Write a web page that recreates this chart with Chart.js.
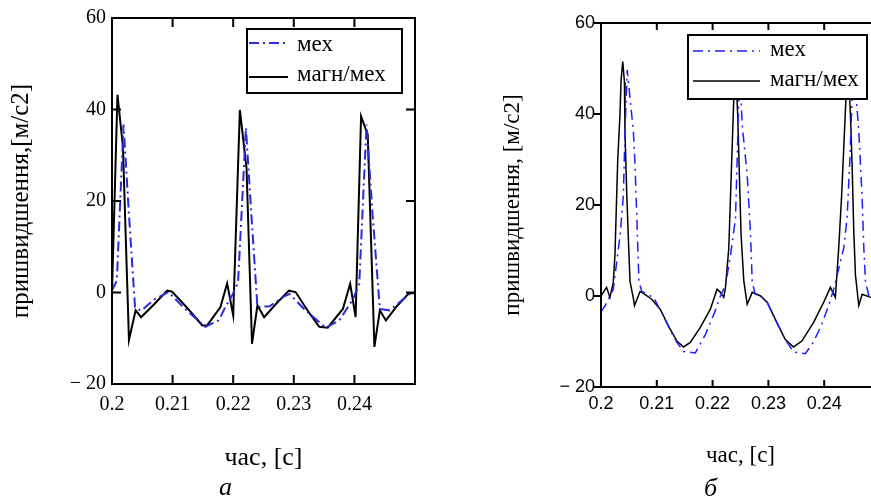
<!DOCTYPE html>
<html><head><meta charset="utf-8">
<script src="https://cdn.jsdelivr.net/npm/chart.js@4.4.1/dist/chart.umd.min.js"></script>
<style>
html,body{margin:0;padding:0;background:#fff;overflow:hidden;width:871px;height:502px;}
#wrapA{position:absolute;left:0;top:0;width:430px;height:502px;}
#wrapB{position:absolute;left:440px;top:0;width:460px;height:502px;}
.cap{position:absolute;font-family:'Liberation Serif',serif;font-style:italic;font-size:26px;line-height:1;color:#000;}
</style></head><body>
<div id="wrapA"><canvas id="chartA" width="430" height="502"></canvas></div>
<div id="wrapB"><canvas id="chartB" width="460" height="502"></canvas></div>
<div class="cap" style="left:219px;top:474px">а</div>
<div class="cap" style="left:704px;top:475px">б</div>
<script>
// ---------- data ----------
const seriesNames = ['мех', 'магн/мех'];
const xTickValues = [0.2, 0.21, 0.22, 0.23, 0.24];
const xTickLabels = ['0.2', '0.21', '0.22', '0.23', '0.24'];
const yTickValues = [-20, 0, 20, 40, 60];
const yTickLabels = ['\u2212 20', '0', '20', '40', '60'];

// chart "а" : мех (blue dash-dot)
const aMechT = [0.2000,0.2008,0.2019,0.2028,0.2038,0.2048,0.2070,0.2093,0.2120,0.2154,0.2176,0.2187,0.2198,0.2208,0.2221,0.2230,0.2240,0.2260,0.2282,0.2293,0.2320,0.2353,0.2375,0.2398,0.2408,0.2420,0.2430,0.2442,0.2458,0.2491,0.2500];
const aMechV = [0.5,2.6,36.7,17,-3.2,-4.0,-1.5,0.1,-3.5,-7.5,-6.1,-3.2,-0.7,2.2,36,17,-3.2,-3.0,-1.0,-0.3,-4,-7.7,-6.1,-1.4,1.9,36.7,17,-3.6,-3.9,-0.4,0];
// chart "а" : магн/мех (black solid)
const aMagT = [0.2000,0.2009,0.2018,0.2028,0.2039,0.2048,0.2070,0.2091,0.2099,0.2125,0.2149,0.2157,0.2179,0.2190,0.2200,0.2211,0.2222,0.2231,0.2240,0.2251,0.2272,0.2292,0.2303,0.2323,0.2342,0.2356,0.2381,0.2393,0.2402,0.2411,0.2422,0.2433,0.2442,0.2452,0.2470,0.2489,0.2502];
const aMagV = [0,43.2,32,-10.4,-3.9,-5.4,-2.5,0.4,0.2,-3.5,-7.2,-7.2,-3.2,2.0,-5.0,39.9,27.2,-11.2,-2.8,-5.4,-2.3,0.4,0.1,-4.0,-7.5,-7.7,-3.6,1.9,-5.4,38.5,34.5,-11.9,-3.9,-6.1,-3.0,-0.3,0];

// chart "б" : мех (blue dash-dot)
const bMechT = [0.2000,0.2008,0.2022,0.2028,0.2034,0.2040,0.2043,0.2047,0.2052,0.2058,0.2061,0.2064,0.2066,0.2068,0.2073,0.2094,0.2106,0.2124,0.2136,0.2148,0.2169,0.2187,0.2202,0.2214,0.2223,0.2232,0.2241,0.2244,0.2247,0.2249,0.2253,0.2262,0.2268,0.2271,0.2276,0.2286,0.2298,0.2315,0.2330,0.2345,0.2366,0.2381,0.2396,0.2408,0.2417,0.2435,0.2441,0.2446,0.2450,0.2454,0.2462,0.2468,0.2471,0.2474,0.2480,0.2500];
const bMechV = [-3.5,-2,1.5,7.3,13.1,21.9,36,49.7,43.5,36.2,28.9,17.9,10.5,3.2,1.0,-0.3,-3.0,-7.5,-10.2,-12.2,-12.5,-8.5,-4.1,0,2.3,8.9,17,30,43.5,49,37.6,26.6,13.5,3.2,0.5,0,-1.4,-5.8,-9.5,-12.3,-12.7,-10.1,-6.1,-2.1,1.5,10.5,17.1,30,43.5,49,36.2,21.5,10.5,3.2,0,-0.5];
// chart "б" : магн/мех (black solid)
const bMagT = [0.2000,0.2010,0.2016,0.2022,0.2025,0.2030,0.2034,0.2036,0.2039,0.2042,0.2043,0.2046,0.2049,0.2052,0.2058,0.2060,0.2070,0.2076,0.2091,0.2106,0.2124,0.2136,0.2148,0.2160,0.2178,0.2196,0.2208,0.2214,0.2220,0.2223,0.2229,0.2232,0.2235,0.2238,0.2241,0.2245,0.2248,0.2251,0.2256,0.2262,0.2271,0.2286,0.2298,0.2315,0.2330,0.2345,0.2360,0.2381,0.2399,0.2411,0.2420,0.2426,0.2431,0.2435,0.2439,0.2443,0.2447,0.2450,0.2453,0.2456,0.2462,0.2468,0.2483,0.2500];
const bMagV = [0,1.9,-0.3,3.0,9,30,39.8,47.5,51.5,47,36,23,12.7,3.2,-0.5,-2.1,1.0,0.6,-0.7,-2.9,-7.3,-9.9,-11.2,-10.2,-6.9,-2.9,1.5,0.8,-0.3,1.8,10.5,21.5,32.5,43.5,51,39.8,26.6,13.5,3.2,-1.8,0.8,0,-1.4,-5.8,-9.5,-11.2,-9.9,-5.8,-1.4,1.9,-0.3,10.5,21.5,32.5,43.5,51,39.8,28.9,14.2,4.6,-2.1,0.4,-0.3,-0.8];

const pts = (t, v) => t.map((x, i) => ({x, y: v[i]}));

// ---------- plugins ----------
const frameTicks = {
  id: 'frameTicks',
  afterDatasetsDraw(chart, args, o) {
    const {ctx, chartArea: {left, right, top, bottom}} = chart;
    const xs = chart.scales.x, ys = chart.scales.y;
    ctx.save();
    ctx.strokeStyle = '#000';
    ctx.lineWidth = o.lineWidth;
    ctx.beginPath();
    xs.ticks.forEach(t => {
      const p = xs.getPixelForValue(t.value);
      ctx.moveTo(p, bottom); ctx.lineTo(p, bottom - o.len);
      ctx.moveTo(p, top); ctx.lineTo(p, top + o.len);
    });
    ys.ticks.forEach(t => {
      const p = ys.getPixelForValue(t.value);
      if (o.yOut) { ctx.moveTo(left, p); ctx.lineTo(left - o.len, p); }
      else { ctx.moveTo(left, p); ctx.lineTo(left + o.len, p);
             ctx.moveTo(right, p); ctx.lineTo(right - o.len, p); }
    });
    ctx.stroke();
    ctx.strokeRect(left, top, right - left, bottom - top);
    ctx.restore();
  }
};
const boxLegend = {
  id: 'boxLegend',
  afterDatasetsDraw(chart, args, o) {
    const ctx = chart.ctx;
    ctx.save();
    ctx.fillStyle = '#fff';
    ctx.fillRect(o.x, o.y, o.w, o.h);
    ctx.strokeStyle = '#000';
    ctx.lineWidth = o.border;
    ctx.strokeRect(o.x, o.y, o.w, o.h);
    chart.data.datasets.forEach((ds, i) => {
      const row = o.rows[i];
      ctx.save();
      ctx.strokeStyle = ds.borderColor;
      ctx.lineWidth = ds.borderWidth;
      ctx.setLineDash(ds.borderDash || []);
      ctx.beginPath();
      ctx.moveTo(o.sx1, row.sy); ctx.lineTo(o.sx2, row.sy);
      ctx.stroke();
      ctx.restore();
      ctx.fillStyle = '#000';
      ctx.font = o.font;
      ctx.textBaseline = 'middle';
      ctx.textAlign = 'left';
      ctx.fillText(ds.label, o.tx, row.ty);
    });
    ctx.restore();
  }
};

function makeChart(id, c) {
  return new Chart(document.getElementById(id), {
    type: 'line',
    data: {
      datasets: [
        {label: seriesNames[0], data: pts(c.mechT, c.mechV), borderColor: c.blue, borderWidth: c.lw, borderDash: c.dash, pointRadius: 0, tension: 0, fill: false},
        {label: seriesNames[1], data: pts(c.magT, c.magV), borderColor: '#000', borderWidth: c.lw, pointRadius: 0, tension: 0, fill: false}
      ]
    },
    options: {
      responsive: false, animation: false, events: [],
      layout: {padding: c.pad},
      plugins: {legend: {display: false}, tooltip: {enabled: false},
        frameTicks: c.frame, boxLegend: c.legend},
      scales: {
        x: {
          type: 'linear', min: 0.2, max: 0.25,
          afterBuildTicks: s => { s.ticks = xTickValues.map(v => ({value: v})); },
          afterFit: s => { s.height = c.xH; },
          grid: {display: false, drawTicks: false}, border: {display: false},
          ticks: {padding: c.xPad, color: '#000', font: c.tickFont, autoSkip: false, maxRotation: 0,
                  callback: (v, i) => xTickLabels[i]},
          title: {display: true, text: c.xTitle, color: '#000', font: c.xTitleFont, padding: {top: 0, bottom: c.xTitlePad}}
        },
        y: {
          type: 'linear', min: -20, max: 60,
          afterBuildTicks: s => { s.ticks = yTickValues.map(v => ({value: v})); },
          afterFit: s => { s.width = c.yW; },
          grid: {display: false, drawTicks: false}, border: {display: false},
          ticks: {padding: c.yPad, color: '#000', font: c.tickFont, callback: (v, i) => yTickLabels[i]},
          title: {display: true, text: c.yTitle, color: '#000', font: c.yTitleFont, padding: {top: c.yTitlePad, bottom: 0}}
        }
      }
    },
    plugins: [frameTicks, boxLegend]
  });
}

makeChart('chartA', {
  mechT: aMechT, mechV: aMechV, magT: aMagT, magV: aMagV,
  blue: '#2b2bdc', lw: 2, dash: [10, 4, 2, 4],
  pad: {top: 15, right: 15, left: 0, bottom: 0},
  xH: 118, yW: 112, xPad: 9, yPad: 6,
  tickFont: {family: 'Liberation Serif', size: 20},
  xTitle: 'час, [с]', xTitleFont: {family: 'Liberation Serif', size: 26}, xTitlePad: 28,
  yTitle: 'пришвидшення,[м/с2]', yTitleFont: {family: 'Liberation Serif', size: 25}, yTitlePad: 6,
  frame: {lineWidth: 2, len: 9, yOut: false},
  legend: {x: 247, y: 29, w: 155, h: 64, border: 2, sx1: 249, sx2: 288, tx: 297,
           font: '23px "Liberation Serif"', rows: [{sy: 43, ty: 44.5}, {sy: 77, ty: 75}]}
});

makeChart('chartB', {
  mechT: bMechT, mechV: bMechV, magT: bMagT, magV: bMagV,
  blue: '#1f1fff', lw: 1.5, dash: [10, 5, 2, 5],
  pad: {top: 23, right: 20, left: 0, bottom: 0},
  xH: 115, yW: 161, xPad: 6, yPad: 6,
  tickFont: {family: 'Liberation Sans', size: 18},
  xTitle: 'час, [с]', xTitleFont: {family: 'Liberation Serif', size: 23}, xTitlePad: 32,
  yTitle: 'пришвидшення, [м/с2]', yTitleFont: {family: 'Liberation Serif', size: 23}, yTitlePad: 59,
  frame: {lineWidth: 2, len: 7, yOut: true},
  legend: {x: 248, y: 35, w: 179, h: 64, border: 2, sx1: 253, sx2: 320, tx: 330,
           font: '23px "Liberation Serif"', rows: [{sy: 51, ty: 49.5}, {sy: 81, ty: 79.5}]}
});
</script>
</body></html>
